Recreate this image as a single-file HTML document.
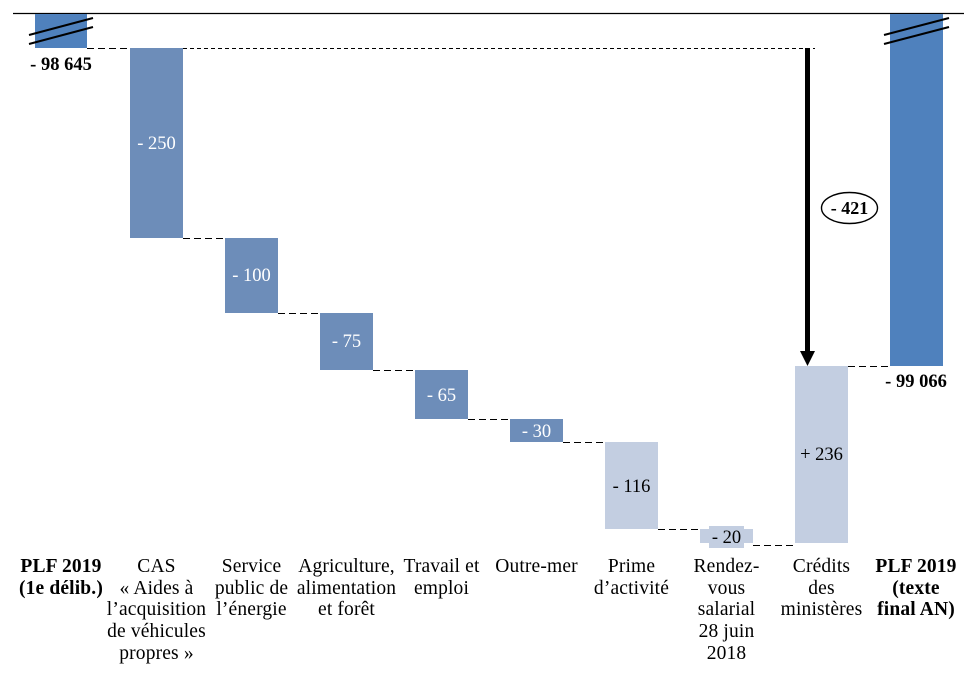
<!DOCTYPE html>
<html><head><meta charset="utf-8"><style>
html,body{margin:0;padding:0;background:#fff;}
svg{display:block;}
text{font-family:"Liberation Serif",serif;}
</style></head><body>
<svg width="977" height="689" viewBox="0 0 977 689" xmlns="http://www.w3.org/2000/svg">
<!-- top axis line -->
<line x1="13" y1="13.5" x2="964" y2="13.5" stroke="#000" stroke-width="1.2"/>

<!-- bars -->
<rect x="35" y="14" width="52" height="34" fill="#4F81BD"/>
<rect x="130" y="48" width="53" height="190" fill="#6D8DB9"/>
<rect x="225" y="238" width="53" height="75" fill="#6D8DB9"/>
<rect x="320" y="313" width="53" height="57" fill="#6D8DB9"/>
<rect x="415" y="370" width="53" height="49" fill="#6D8DB9"/>
<rect x="510" y="419" width="53" height="23" fill="#6D8DB9"/>
<rect x="605" y="442" width="53" height="87" fill="#C3CEE1"/>
<rect x="700" y="529" width="53" height="14" fill="#C3CEE1"/>
<rect x="709" y="526" width="35" height="22" fill="#C3CEE1"/>
<rect x="795" y="366" width="53" height="177" fill="#C3CEE1"/>
<rect x="890" y="14" width="53" height="352" fill="#4F81BD"/>

<!-- break marks -->
<g stroke="#000" stroke-width="2">
<line x1="29" y1="35" x2="93" y2="18"/>
<line x1="29" y1="44" x2="93" y2="27"/>
<line x1="884" y1="35" x2="949" y2="18"/>
<line x1="884" y1="44" x2="949" y2="27"/>
</g>

<!-- dashed connectors -->
<g stroke="#000" stroke-width="1" stroke-dasharray="7,4" fill="none">
<line x1="87" y1="48.5" x2="130" y2="48.5"/>
<line x1="183" y1="238.5" x2="225" y2="238.5"/>
<line x1="278" y1="313.5" x2="320" y2="313.5"/>
<line x1="373" y1="370.5" x2="415" y2="370.5"/>
<line x1="468" y1="419.5" x2="510" y2="419.5"/>
<line x1="563" y1="442.5" x2="605" y2="442.5"/>
<line x1="658" y1="529.5" x2="700" y2="529.5"/>
<line x1="753" y1="545.5" x2="795" y2="545.5"/>
<line x1="848" y1="366.5" x2="890" y2="366.5"/>
</g>
<line x1="183" y1="48.5" x2="815" y2="48.5" stroke="#000" stroke-width="1" stroke-dasharray="4,3"/>

<!-- arrow -->
<rect x="805" y="48" width="5" height="305" fill="#000"/>
<polygon points="800,351 815,351 807.5,366" fill="#000"/>

<!-- ellipse label -->
<ellipse cx="849.5" cy="208" rx="28" ry="15.5" fill="#fff" stroke="#000" stroke-width="1.4"/>
<text x="849.5" y="214" font-size="18" font-weight="bold" text-anchor="middle">- 421</text>

<!-- totals -->
<text x="61" y="70" font-size="18.5" font-weight="bold" text-anchor="middle">- 98 645</text>
<text x="916" y="387" font-size="18.5" font-weight="bold" text-anchor="middle">- 99 066</text>

<!-- bar value labels -->
<g font-size="18.5" text-anchor="middle">
<text x="156.5" y="149" fill="#fff">- 250</text>
<text x="251.5" y="281" fill="#fff">- 100</text>
<text x="346.5" y="347" fill="#fff">- 75</text>
<text x="441.5" y="401" fill="#fff">- 65</text>
<text x="536.5" y="437" fill="#fff">- 30</text>
<text x="631.5" y="492" fill="#000">- 116</text>
<text x="726.5" y="543" fill="#000">- 20</text>
<text x="821.5" y="460" fill="#000">+ 236</text>
</g>

<!-- category labels -->
<g font-size="19.5" text-anchor="middle" fill="#000" letter-spacing="0.15">
<text x="61" y="572" font-weight="bold">PLF 2019</text>
<text x="61" y="594" font-weight="bold">(1e délib.)</text>

<text x="156.5" y="572">CAS</text>
<text x="156.5" y="594">« Aides à</text>
<text x="156.5" y="615">l’acquisition</text>
<text x="156.5" y="637">de véhicules</text>
<text x="156.5" y="659">propres »</text>

<text x="251.5" y="572">Service</text>
<text x="251.5" y="594">public de</text>
<text x="251.5" y="615">l’énergie</text>

<text x="346.5" y="572">Agriculture,</text>
<text x="346.5" y="594">alimentation</text>
<text x="346.5" y="615">et forêt</text>

<text x="441.5" y="572">Travail et</text>
<text x="441.5" y="594">emploi</text>

<text x="536.5" y="572">Outre-mer</text>

<text x="631.5" y="572">Prime</text>
<text x="631.5" y="594">d’activité</text>

<text x="726.5" y="572">Rendez-</text>
<text x="726.5" y="594">vous</text>
<text x="726.5" y="615">salarial</text>
<text x="726.5" y="637">28 juin</text>
<text x="726.5" y="659">2018</text>

<text x="821.5" y="572">Crédits</text>
<text x="821.5" y="594">des</text>
<text x="821.5" y="615">ministères</text>

<text x="916" y="572" font-weight="bold">PLF 2019</text>
<text x="916" y="594" font-weight="bold">(texte</text>
<text x="916" y="615" font-weight="bold">final AN)</text>
</g>
</svg>
</body></html>
